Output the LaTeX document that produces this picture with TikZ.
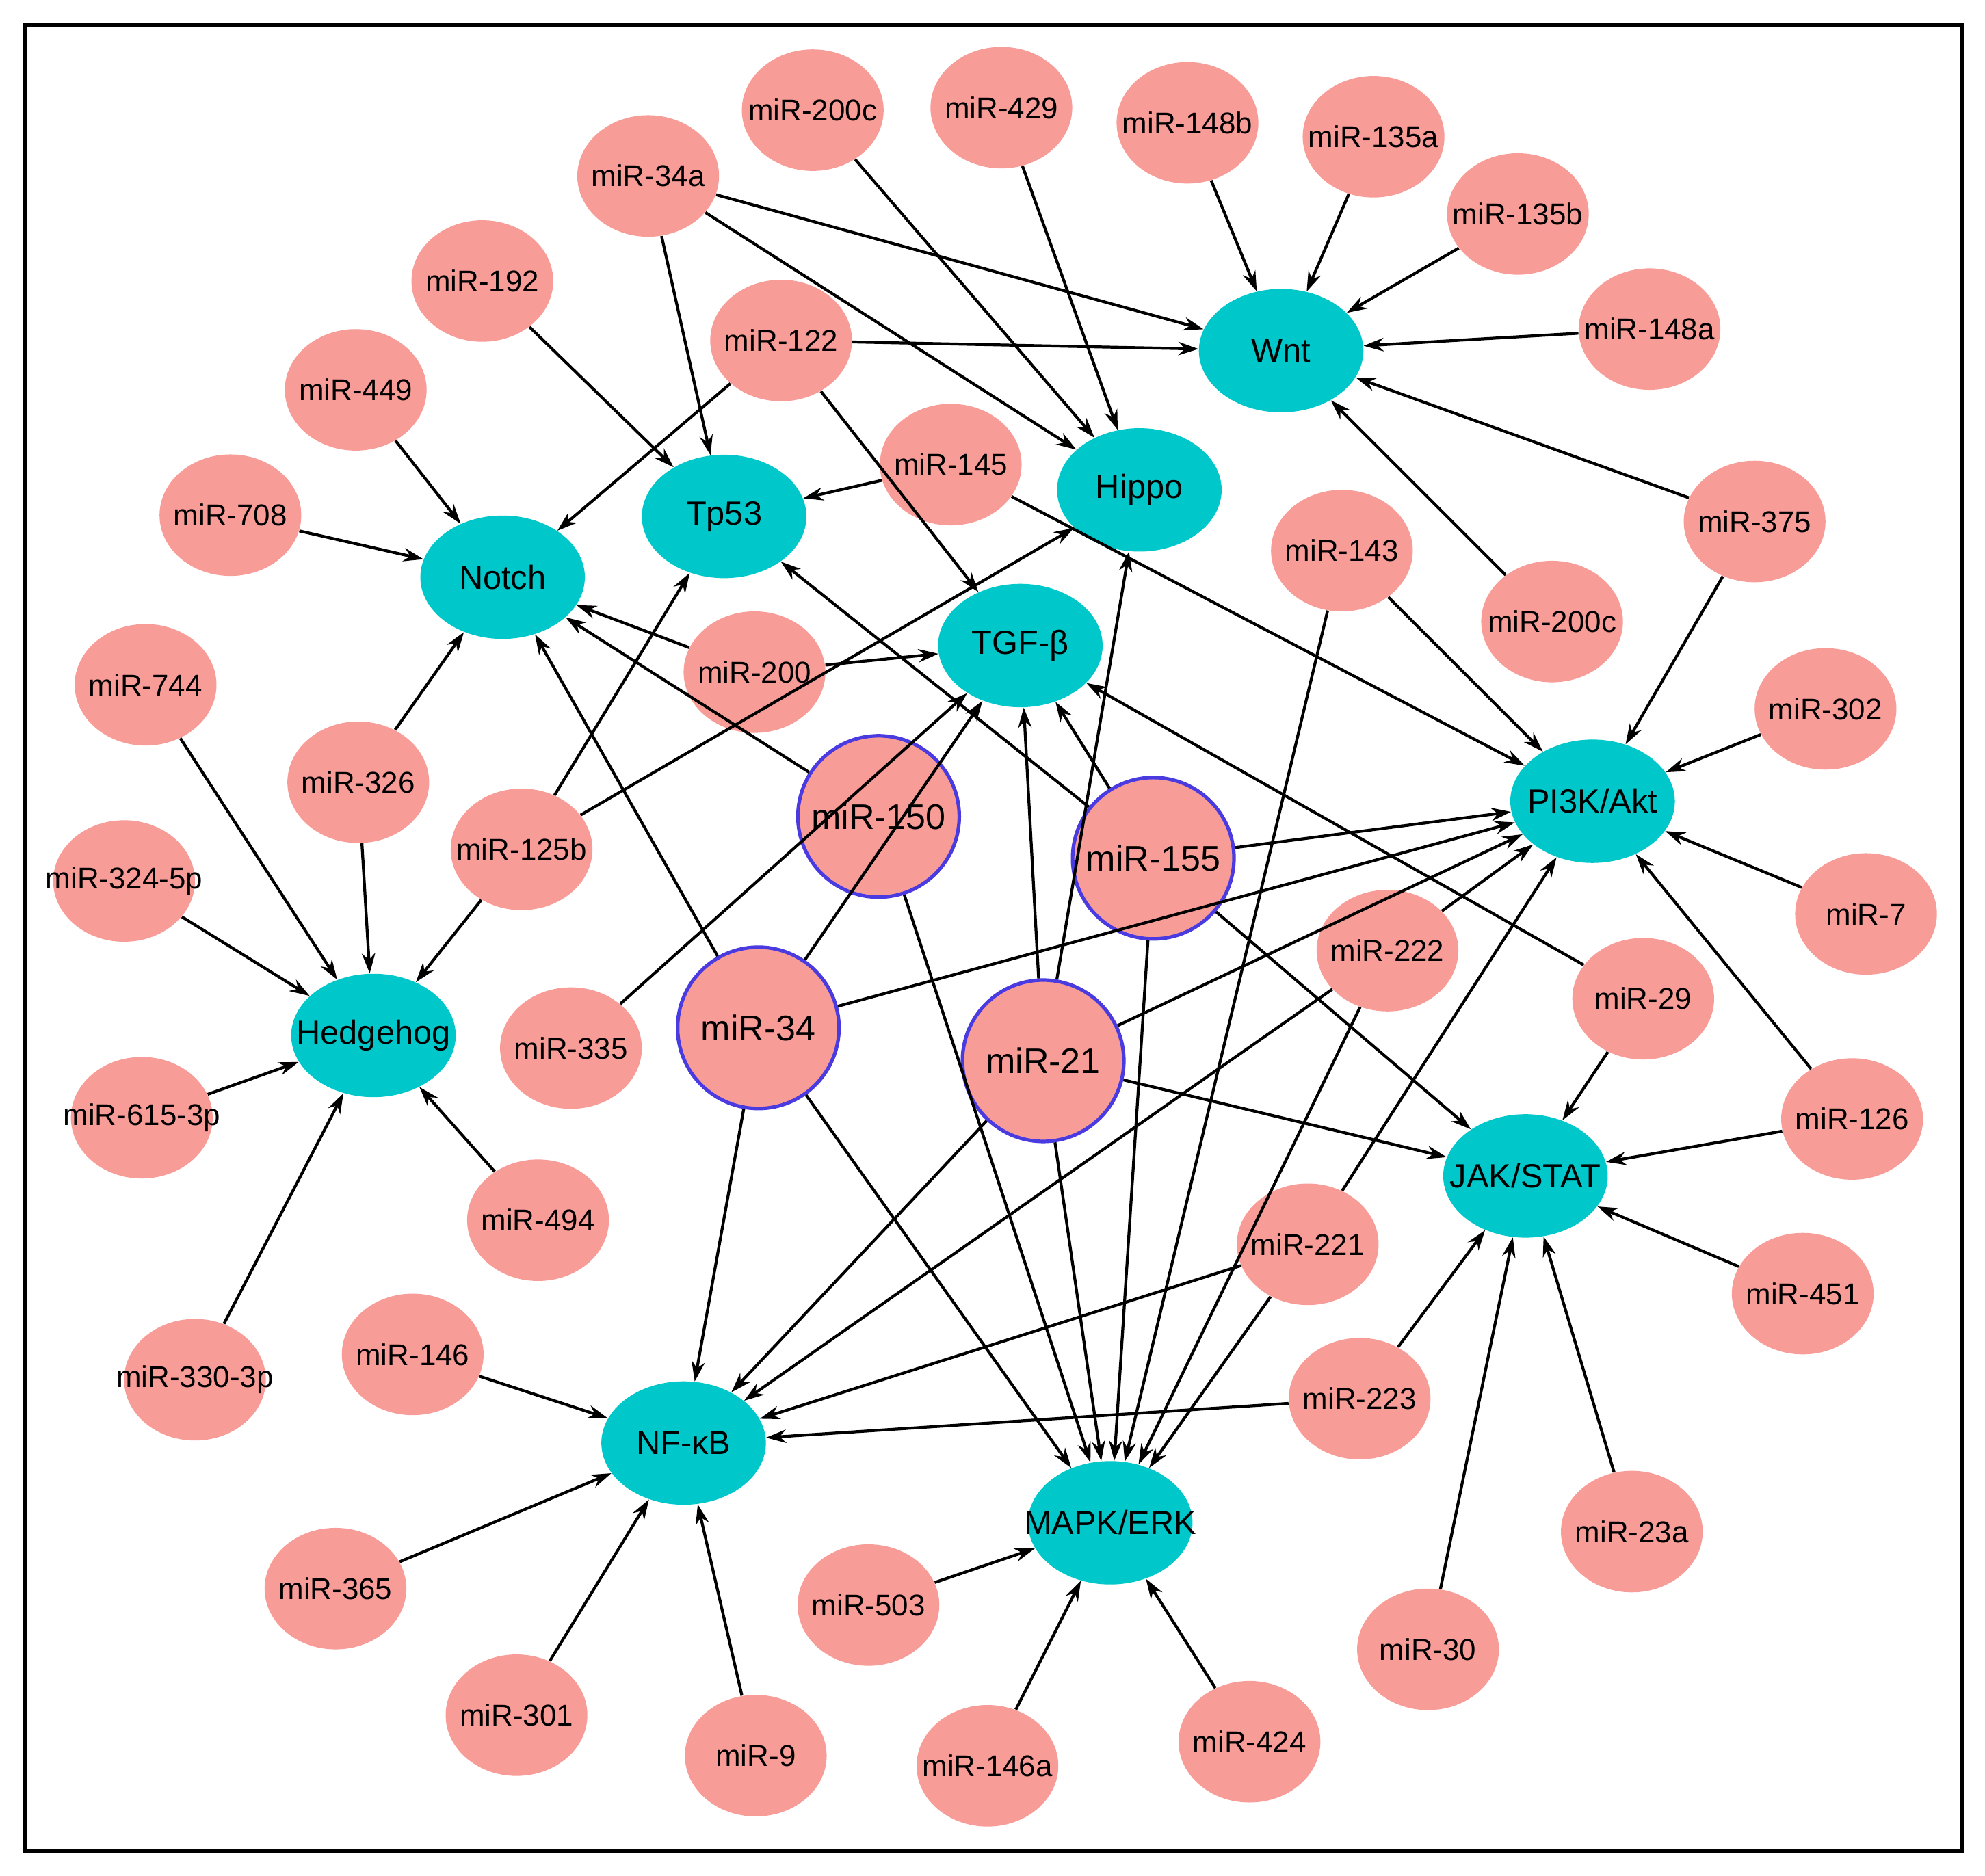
\documentclass[tikz,border=0pt]{standalone}
\usepackage{fontspec}
\setmainfont{Liberation Sans}
\usetikzlibrary{shapes.geometric,arrows.meta}
\definecolor{pk}{HTML}{F89C98}
\definecolor{tl}{HTML}{00C8CA}
\definecolor{bl}{HTML}{4A3BE0}
\newcommand\Zb[1]{\makebox[0pt]{#1}}
\begin{document}
\begin{tikzpicture}[x=0.02cm,y=-0.02cm,
 mir/.style={ellipse,fill=pk,minimum width=2.24cm,minimum height=1.92cm,inner sep=0pt,font=\fontsize{13.5}{15}\selectfont},
 hub/.style={ellipse,fill=tl,minimum width=2.6cm,minimum height=1.95cm,inner sep=0pt,font=\fontsize{15}{16}\selectfont},
 big/.style={circle,fill=pk,draw=bl,line width=1.6pt,minimum size=2.55cm,inner sep=0pt,font=\fontsize{16}{17}\selectfont},
 e/.style={-{Stealth[length=9pt,width=6pt]},line width=1.3pt}]
\useasboundingbox (0,0) rectangle (1568,1482);
\draw[line width=2pt] (20,20) rectangle (1550,1462);
% hubs
\node[hub] (wnt) at (1012,277) {\Zb{Wnt}};
\node[hub] (hippo) at (900,387) {\Zb{Hippo}};
\node[hub] (tp53) at (572,408) {\Zb{Tp53}};
\node[hub] (notch) at (397,456) {\Zb{Notch}};
\node[hub] (tgf) at (806,510) {\Zb{TGF-β}};
\node[hub] (pi3k) at (1258,633) {\Zb{PI3K/Akt}};
\node[hub] (hh) at (295,818) {\Zb{Hedgehog}};
\node[hub] (jak) at (1205,929) {\Zb{JAK/STAT}};
\node[hub] (nf) at (540,1140) {\Zb{NF-κB}};
\node[hub] (mapk) at (877,1203) {\Zb{MAPK/ERK}};
% big
\node[big] (m150) at (694,645) {\Zb{miR-150}};
\node[big] (m155) at (911,678) {\Zb{miR-155}};
\node[big] (m34) at (599,812) {\Zb{miR-34}};
\node[big] (m21) at (824,838) {\Zb{miR-21}};
% small
\node[mir] (m200ct) at (642,87) {\Zb{miR-200c}};
\node[mir] (m429) at (791,85) {\Zb{miR-429}};
\node[mir] (m148b) at (938,97) {\Zb{miR-148b}};
\node[mir] (m135a) at (1085,108) {\Zb{miR-135a}};
\node[mir] (m135b) at (1199,169) {\Zb{miR-135b}};
\node[mir] (m148a) at (1303,260) {\Zb{miR-148a}};
\node[mir] (m34a) at (512,139) {\Zb{miR-34a}};
\node[mir] (m192) at (381,222) {\Zb{miR-192}};
\node[mir] (m122) at (617,269) {\Zb{miR-122}};
\node[mir] (m449) at (281,308) {\Zb{miR-449}};
\node[mir] (m708) at (182,407) {\Zb{miR-708}};
\node[mir] (m145) at (751,367) {\Zb{miR-145}};
\node[mir] (m375) at (1386,412) {\Zb{miR-375}};
\node[mir] (m143) at (1060,435) {\Zb{miR-143}};
\node[mir] (m200cr) at (1226,491) {\Zb{miR-200c}};
\node[mir] (m302) at (1442,560) {\Zb{miR-302}};
\node[mir] (m744) at (115,541) {\Zb{miR-744}};
\node[mir] (m200) at (596,531) {\Zb{miR-200}};
\node[mir] (m326) at (283,618) {\Zb{miR-326}};
\node[mir] (m125b) at (412,671) {\Zb{miR-125b}};
\node[mir] (m324) at (98,696) {\Zb{miR-324-5p}};
\node[mir] (m7) at (1474,722) {\Zb{miR-7}};
\node[mir] (m222) at (1096,751) {\Zb{miR-222}};
\node[mir] (m29) at (1298,789) {\Zb{miR-29}};
\node[mir] (m335) at (451,828) {\Zb{miR-335}};
\node[mir] (m615) at (112,883) {\Zb{miR-615-3p}};
\node[mir] (m126) at (1463,884) {\Zb{miR-126}};
\node[mir] (m494) at (425,964) {\Zb{miR-494}};
\node[mir] (m221) at (1033,983) {\Zb{miR-221}};
\node[mir] (m451) at (1424,1022) {\Zb{miR-451}};
\node[mir] (m146) at (326,1070) {\Zb{miR-146}};
\node[mir] (m330) at (154,1090) {\Zb{miR-330-3p}};
\node[mir] (m223) at (1074,1105) {\Zb{miR-223}};
\node[mir] (m23a) at (1289,1210) {\Zb{miR-23a}};
\node[mir] (m365) at (265,1255) {\Zb{miR-365}};
\node[mir] (m503) at (686,1268) {\Zb{miR-503}};
\node[mir] (m30) at (1128,1303) {\Zb{miR-30}};
\node[mir] (m301) at (408,1355) {\Zb{miR-301}};
\node[mir] (m9) at (597,1387) {\Zb{miR-9}};
\node[mir] (m424) at (987,1376) {\Zb{miR-424}};
\node[mir] (m146a) at (780,1395) {\Zb{miR-146a}};
% edges
\foreach \s/\t in {m34a/wnt,m34a/tp53,m34a/hippo,m200ct/hippo,m429/hippo,
 m148b/wnt,m135a/wnt,m135b/wnt,m148a/wnt,m122/wnt,m375/wnt,m200cr/wnt,
 m192/tp53,m122/notch,m122/tgf,m449/notch,m708/notch,m145/tp53,m145/pi3k,
 m143/pi3k,m143/mapk,m375/pi3k,m302/pi3k,m7/pi3k,m126/pi3k,m126/jak,
 m200/notch,m200/tgf,m150/notch,m34/notch,m125b/tp53,m125b/hippo,m125b/hh,
 m326/notch,m326/hh,m744/hh,m324/hh,m615/hh,m494/hh,m330/hh,
 m155/tp53,m155/tgf,m155/pi3k,m155/jak,m155/mapk,
 m335/tgf,m34/tgf,m150/mapk,
 m21/hippo,m21/tgf,m21/pi3k,m21/jak,m21/mapk,m21/nf,
 m34/pi3k,m34/nf,m34/mapk,
 m222/pi3k,m222/nf,m222/mapk,m29/tgf,m29/jak,
 m221/pi3k,m221/nf,m221/mapk,m223/nf,m223/jak,m451/jak,m23a/jak,m30/jak,
 m146/nf,m365/nf,m301/nf,m9/nf,m503/mapk,m146a/mapk,m424/mapk}
 \draw[e] (\s) -- (\t);
\end{tikzpicture}
\end{document}
